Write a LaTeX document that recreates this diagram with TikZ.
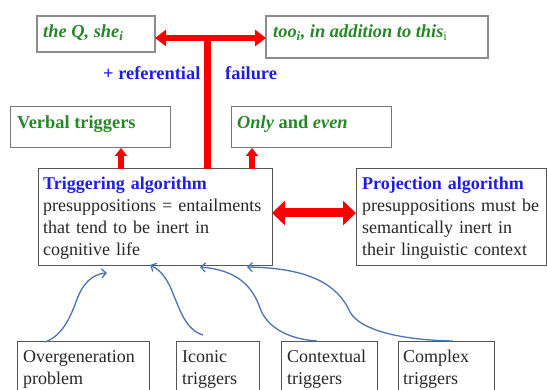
\documentclass[tikz,border=0pt]{standalone}
\usepackage{fontspec}
\setmainfont{Liberation Serif}
\usetikzlibrary{arrows.meta,calc}
\definecolor{tgreen}{RGB}{40,135,40}
\definecolor{tblue}{RGB}{30,30,225}
\definecolor{tred}{RGB}{250,0,0}
\definecolor{cblue}{RGB}{75,115,180}
\definecolor{lgray}{RGB}{140,140,140}
\definecolor{dgray}{RGB}{85,85,85}
\tikzset{
  x=1pt,y=-1pt,
  boxlight/.style={draw=lgray,line width=1.3pt,inner sep=0pt,outer sep=0pt,anchor=north west},
  boxdark/.style={draw=dgray,line width=1pt,inner sep=0pt,outer sep=0pt,anchor=north west},
  greentxt/.style={anchor=base west,inner sep=0pt,text=tgreen,font=\fontsize{18.4}{21}\selectfont\bfseries},
  bodytxt/.style={anchor=base west,inner sep=0pt,text=black!85,align=left,text width=#1,font=\fontsize{18}{22}\selectfont},
  bluetxt/.style={text=tblue,font=\fontsize{18.4}{21}\selectfont\bfseries,anchor=base west,inner sep=0pt},
  redbig/.style={draw=tred,line width=6pt,{Triangle[length=11pt,width=16pt]}-{Triangle[length=11pt,width=16pt]}},
  redstem/.style={draw=tred,line width=7pt},
  redsmall/.style={draw=tred,line width=6pt,-{Triangle[length=8pt,width=12pt]}},
  redmid/.style={draw=tred,line width=9pt,{Triangle[length=13pt,width=24pt]}-{Triangle[length=13pt,width=24pt]}},
  curve/.style={draw=cblue,line width=1.3pt,-{Straight Barb[length=4.5pt,width=9pt]}}
}
\begin{document}
\begin{tikzpicture}
\useasboundingbox (0,0) rectangle (547,390);
\clip (0,0) rectangle (547,390);
% top boxes
\node[boxlight,minimum width=118pt,minimum height=36pt] (q) at (37,16) {};
\node[boxlight,minimum width=222pt,minimum height=42pt] (too) at (266,16) {};
\node[greentxt] (tq) at (43,38) {\itshape the Q, she\textsubscript{i}};
\node[greentxt] (ttoo) at (273,38) {\itshape too\textsubscript{i}, in addition to this\textsubscript{\normalfont\mdseries i}};
% second row
\node[boxdark,draw=dgray!80,minimum width=160pt,minimum height=41pt] (verb) at (10,107) {};
\node[boxdark,draw=dgray!80,minimum width=160pt,minimum height=41pt] (only) at (231,107) {};
\node[greentxt] (tverb) at (17,129) {Verbal triggers};
\node[greentxt] (tonly) at (237,129) {\textit{Only} and \textit{even}};
% algorithm boxes
\node[boxdark,minimum width=234pt,minimum height=97pt] (trig) at (38,169) {};
\node[boxdark,minimum width=190pt,minimum height=97pt] (proj) at (356,169) {};
\node[bodytxt=230pt] (ttrig) at (43,190) {\textcolor{tblue}{\bfseries Triggering algorithm}\\presuppositions = entailments\\that tend to be inert in\\cognitive life};
\node[bodytxt=186pt] (tproj) at (362,190) {\textcolor{tblue}{\bfseries Projection algorithm}\\presuppositions must be\\semantically inert in\\their linguistic context};
% bottom boxes
\node[boxdark,minimum width=132pt,minimum height=60pt] (og) at (17,342) {};
\node[boxdark,minimum width=83pt,minimum height=60pt] (ic) at (176,342) {};
\node[boxdark,minimum width=96pt,minimum height=60pt] (ct) at (281,342) {};
\node[boxdark,minimum width=96pt,minimum height=60pt] (cx) at (398,342) {};
\node[bodytxt=128pt] (tog) at (23,363) {Overgeneration\\problem};
\node[bodytxt=80pt] (tic) at (182,363) {Iconic\\triggers};
\node[bodytxt=90pt] (tct) at (287,363) {Contextual\\triggers};
\node[bodytxt=90pt] (tcx) at (403,363) {Complex\\triggers};
% labels
\node[bluetxt] (ref) at (103,80) {+ referential};
\node[bluetxt] (fail) at (225,80) {failure};
% red arrows
\coordinate (j) at (207,38);
\coordinate (jt) at (207,35);
\draw[redstem] (jt) -- (trig.north -| j);
\draw[redbig] (q.east |- j) -- (too.west |- j);
\coordinate (a1) at ($(trig.north west)+(83,0)$);
\coordinate (a2) at ($(trig.north west)+(214,0)$);
\draw[redsmall] (a1) -- (a1 |- verb.south);
\draw[redsmall] (a2) -- (a2 |- only.south);
\coordinate (m) at (0,213);
\draw[redmid] (trig.east |- m) -- (proj.west |- m);
% blue curves
\coordinate (s1) at ($(og.north west)+(28,0)$);
\coordinate (s2) at ($(ic.north west)+(27,-7)$);
\coordinate (s3) at ($(ct.north west)+(36,-1)$);
\coordinate (s4) at ($(cx.north west)+(55,-1)$);
\coordinate (e1) at ($(trig.south west)+(69,7)$);
\coordinate (e2) at ($(trig.south west)+(112,-1)$);
\coordinate (e3) at ($(trig.south west)+(162,1)$);
\coordinate (e4) at ($(trig.south west)+(209,1)$);
\draw[curve] (s1) .. controls (62,336) and (70,318) .. (76,302) .. controls (82,284) and (92,274) .. (e1);
\draw[curve] (s2) .. controls (186,330) and (180,310) .. (174,296) .. controls (168,280) and (162,271) .. (e2);
\draw[curve] (s3) .. controls (285,339) and (266,325) .. (260,308) .. controls (252,285) and (236,270) .. (e3);
\draw[curve] (s4) .. controls (400,340) and (360,330) .. (350,312) .. controls (338,285) and (310,268) .. (e4);
\end{tikzpicture}
\end{document}
